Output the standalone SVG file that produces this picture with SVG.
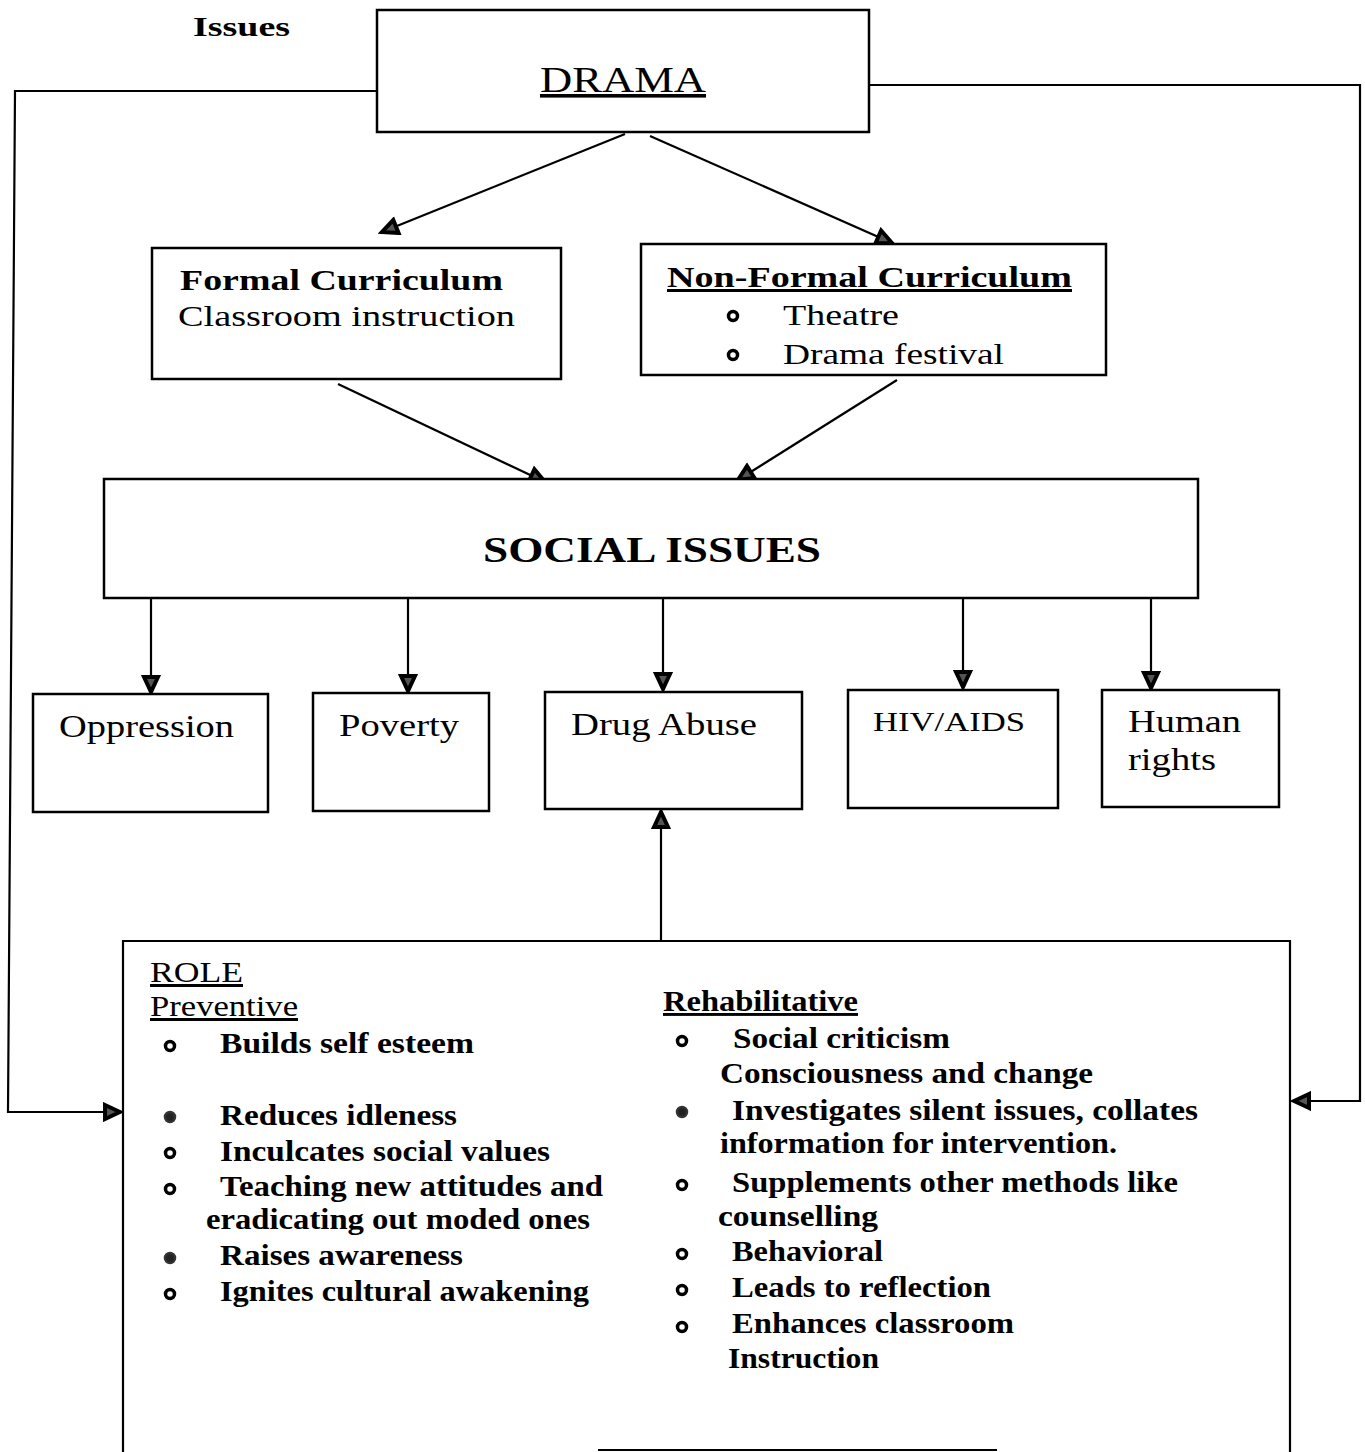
<svg xmlns="http://www.w3.org/2000/svg" width="1365" height="1452" viewBox="0 0 1365 1452">
<defs>
<marker id="ah" viewBox="-3 -3 22 20" refX="15" refY="7" markerWidth="22" markerHeight="20" markerUnits="userSpaceOnUse" orient="auto">
<path d="M0,0 L15,7 L0,14 Z" fill="#555" stroke="#000" stroke-width="4" stroke-linejoin="miter"/>
</marker>
<style>
.box{fill:#fff;stroke:#000;stroke-width:2.5}
.ln{fill:none;stroke:#000;stroke-width:2.2}
.t{font-family:"Liberation Serif","Times New Roman",serif;fill:#000}
.b{font-weight:bold}
.u{text-decoration:underline}
.ho{fill:#fff;stroke:#000;stroke-width:3.5}
.fi{fill:#222;stroke:#333;stroke-width:2.5}
</style>
</defs>
<rect width="1365" height="1452" fill="#fff"/>

<text class="t b" x="193" y="36" font-size="28" textLength="97" lengthAdjust="spacingAndGlyphs">Issues</text>

<g id="connectors">
<polyline class="ln" points="388,91 15,91 8,1112 120,1112" marker-end="url(#ah)"/>
<polyline class="ln" points="869,85 1360,85 1360,1101 1294,1101" marker-end="url(#ah)"/>
<line class="ln" x1="625" y1="134" x2="382" y2="232" marker-end="url(#ah)"/>
<line class="ln" x1="650" y1="136" x2="892" y2="243" marker-end="url(#ah)"/>
<line class="ln" x1="338" y1="384" x2="545" y2="482" marker-end="url(#ah)"/>
<line class="ln" x1="897" y1="380" x2="738" y2="480" marker-end="url(#ah)"/>
<line class="ln" x1="151" y1="599" x2="151" y2="692" marker-end="url(#ah)"/>
<line class="ln" x1="408" y1="598" x2="408" y2="691" marker-end="url(#ah)"/>
<line class="ln" x1="663" y1="597" x2="663" y2="689" marker-end="url(#ah)"/>
<line class="ln" x1="963" y1="595" x2="963" y2="687" marker-end="url(#ah)"/>
<line class="ln" x1="1151" y1="595" x2="1151" y2="688" marker-end="url(#ah)"/>
<line class="ln" x1="661" y1="940" x2="661" y2="812" marker-end="url(#ah)"/>
</g>

<g id="drama">
<rect class="box" x="377" y="10" width="492" height="122"/>
<text class="t u" x="540" y="92" font-size="36" textLength="166" lengthAdjust="spacingAndGlyphs">DRAMA</text>
</g>

<g id="formal">
<rect class="box" x="152" y="248" width="409" height="131"/>
<text class="t b" x="180" y="290" font-size="30" textLength="323" lengthAdjust="spacingAndGlyphs">Formal Curriculum</text>
<text class="t" x="178" y="326" font-size="30" textLength="337" lengthAdjust="spacingAndGlyphs">Classroom instruction</text>
</g>

<g id="nonformal">
<rect class="box" x="641" y="244" width="465" height="131"/>
<text class="t b u" x="667" y="287" font-size="30" textLength="405" lengthAdjust="spacingAndGlyphs">Non-Formal Curriculum</text>
<circle class="ho" cx="733" cy="316" r="4.5"/>
<circle class="ho" cx="733" cy="355" r="4.5"/>
<text class="t" x="783" y="325" font-size="30" textLength="116" lengthAdjust="spacingAndGlyphs">Theatre</text>
<text class="t" x="783" y="364" font-size="30" textLength="221" lengthAdjust="spacingAndGlyphs">Drama festival</text>
</g>

<g id="social">
<rect class="box" x="104" y="479" width="1094" height="119"/>
<text class="t b" x="483" y="562" font-size="36" textLength="338" lengthAdjust="spacingAndGlyphs">SOCIAL ISSUES</text>
</g>

<g id="oppression">
<rect class="box" x="33" y="694" width="235" height="118"/>
<text class="t" x="59" y="737" font-size="32" textLength="175" lengthAdjust="spacingAndGlyphs">Oppression</text>
</g>
<g id="poverty">
<rect class="box" x="313" y="693" width="176" height="118"/>
<text class="t" x="339" y="736" font-size="32" textLength="120" lengthAdjust="spacingAndGlyphs">Poverty</text>
</g>
<g id="drug">
<rect class="box" x="545" y="692" width="257" height="117"/>
<text class="t" x="571" y="735" font-size="32" textLength="186" lengthAdjust="spacingAndGlyphs">Drug Abuse</text>
</g>
<g id="hiv">
<rect class="box" x="848" y="690" width="210" height="118"/>
<text class="t" x="873" y="731" font-size="28" textLength="152" lengthAdjust="spacingAndGlyphs">HIV/AIDS</text>
</g>
<g id="human">
<rect class="box" x="1102" y="690" width="177" height="117"/>
<text class="t" x="1128" y="732" font-size="32" textLength="113" lengthAdjust="spacingAndGlyphs">Human</text>
<text class="t" x="1128" y="770" font-size="32" textLength="88" lengthAdjust="spacingAndGlyphs">rights</text>
</g>

<g id="role">
<polyline class="ln" points="123,1452 123,941 1290,941 1290,1452" stroke-width="2.5"/>
<line class="ln" x1="598" y1="1450" x2="997" y2="1450"/>
<text class="t u" x="150" y="982" font-size="30" textLength="93" lengthAdjust="spacingAndGlyphs">ROLE</text>
<text class="t u" x="150" y="1016" font-size="30" textLength="148" lengthAdjust="spacingAndGlyphs">Preventive</text>
<circle class="ho" cx="170" cy="1046" r="4.5"/>
<circle class="fi" cx="170" cy="1117" r="5"/>
<circle class="ho" cx="170" cy="1153" r="4.5"/>
<circle class="ho" cx="170" cy="1189" r="4.5"/>
<circle class="fi" cx="170" cy="1258" r="5"/>
<circle class="ho" cx="170" cy="1294" r="4.5"/>
<g class="t b" font-size="29">
<text x="220" y="1053" textLength="254" lengthAdjust="spacingAndGlyphs">Builds self esteem</text>
<text x="220" y="1125" textLength="237" lengthAdjust="spacingAndGlyphs">Reduces idleness</text>
<text x="220" y="1161" textLength="330" lengthAdjust="spacingAndGlyphs">Inculcates social values</text>
<text x="220" y="1196" textLength="383" lengthAdjust="spacingAndGlyphs">Teaching new attitudes and</text>
<text x="206" y="1229" textLength="384" lengthAdjust="spacingAndGlyphs">eradicating out moded ones</text>
<text x="220" y="1265" textLength="243" lengthAdjust="spacingAndGlyphs">Raises awareness</text>
<text x="220" y="1301" textLength="369" lengthAdjust="spacingAndGlyphs">Ignites cultural awakening</text>
</g>
<text class="t b u" x="663" y="1011" font-size="29" textLength="195" lengthAdjust="spacingAndGlyphs">Rehabilitative</text>
<circle class="ho" cx="682" cy="1041" r="4.5"/>
<circle class="fi" cx="682" cy="1112" r="5"/>
<circle class="ho" cx="682" cy="1185" r="4.5"/>
<circle class="ho" cx="682" cy="1254" r="4.5"/>
<circle class="ho" cx="682" cy="1290" r="4.5"/>
<circle class="ho" cx="682" cy="1327" r="4.5"/>
<g class="t b" font-size="29">
<text x="733" y="1048" textLength="217" lengthAdjust="spacingAndGlyphs">Social criticism</text>
<text x="720" y="1083" textLength="373" lengthAdjust="spacingAndGlyphs">Consciousness and change</text>
<text x="732" y="1120" textLength="466" lengthAdjust="spacingAndGlyphs">Investigates silent issues, collates</text>
<text x="720" y="1153" textLength="397" lengthAdjust="spacingAndGlyphs">information for intervention.</text>
<text x="732" y="1192" textLength="446" lengthAdjust="spacingAndGlyphs">Supplements other methods like</text>
<text x="718" y="1226" textLength="160" lengthAdjust="spacingAndGlyphs">counselling</text>
<text x="732" y="1261" textLength="151" lengthAdjust="spacingAndGlyphs">Behavioral</text>
<text x="732" y="1297" textLength="259" lengthAdjust="spacingAndGlyphs">Leads to reflection</text>
<text x="732" y="1333" textLength="282" lengthAdjust="spacingAndGlyphs">Enhances classroom</text>
<text x="728" y="1368" textLength="151" lengthAdjust="spacingAndGlyphs">Instruction</text>
</g>
</g>
</svg>
